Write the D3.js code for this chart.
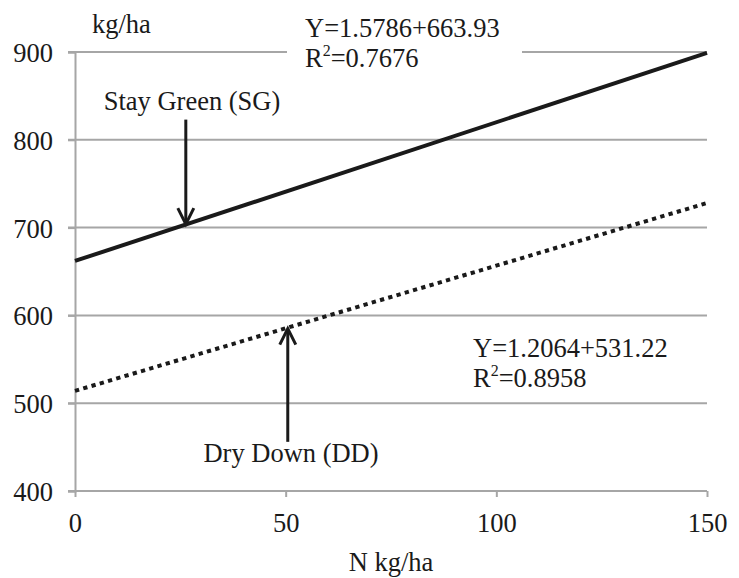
<!DOCTYPE html>
<html>
<head>
<meta charset="utf-8">
<script src="https://cdn.jsdelivr.net/npm/d3@7"></script>
</head>
<body style="margin:0;padding:0;background:#fff">
<svg id="chart" width="739" height="578" font-family="Liberation Serif"></svg>
<script>
// ---- data ----
const xTicks = [0, 50, 100, 150];
const yTicks = [400, 500, 600, 700, 800, 900];
const nRate = [0, 150];
const sgYield = [662, 899];
const ddYield = [514, 728];
const sgLabel = "Stay Green (SG)";
const ddLabel = "Dry Down (DD)";
const sgEq = ["Y=1.5786+663.93", "0.7676"];
const ddEq = ["Y=1.2064+531.22", "0.8958"];
// arrows: x position (N kg/ha), start value, tip value
const sgArrow = [26.3, 823, 704];
const ddArrow = [50.5, 456, 585];

const FONT = "Liberation Serif";
const FS = 26.5, SY = 1.06;
const svg = d3.select("#chart");
const x = d3.scaleLinear().domain([0, 150]).range([75, 707]);
const y = d3.scaleLinear().domain([400, 900]).range([491, 52]);
const gridColor = "#a6a6a6";
const ink = "#1a1a1a";

function style(sel) {
  return sel.attr("font-family", FONT).attr("font-size", FS).attr("fill", ink);
}
function label(px, py, str, anchor) {
  return style(svg.append("text"))
    .attr("transform", `translate(${px},${py}) scale(1,${SY})`)
    .attr("text-anchor", anchor || "start").text(str);
}

// gridlines
svg.append("g").selectAll("line").data(yTicks.filter(d => d > 400)).join("line")
  .attr("x1", x(0) - 7).attr("x2", x(150))
  .attr("y1", d => y(d)).attr("y2", d => y(d))
  .attr("stroke", gridColor).attr("stroke-width", 2);

// y axis
const yAxis = d3.axisLeft(y).tickValues(yTicks).tickSize(7).tickFormat(d3.format("d"));
const gy = svg.append("g").attr("transform", `translate(${x(0)},0)`).call(yAxis)
  .attr("font-family", FONT).attr("font-size", FS);
gy.select(".domain").attr("stroke", gridColor).attr("stroke-width", 2);
gy.selectAll(".tick line").attr("stroke", gridColor).attr("stroke-width", 2);
style(gy.selectAll(".tick text")).attr("x", 0).attr("dy", null)
  .attr("text-anchor", "end").attr("transform", `translate(-22,9.5) scale(1,${SY})`);

// x axis
const xAxis = d3.axisBottom(x).tickValues(xTicks).tickSize(6).tickSizeOuter(0);
const gx = svg.append("g").attr("transform", `translate(0,${y(400)})`).call(xAxis)
  .attr("font-family", FONT).attr("font-size", FS);
gx.select(".domain").attr("stroke", gridColor).attr("stroke-width", 2).attr("d", `M${x(0)-7},0H${x(150)}`);
gx.selectAll(".tick line").attr("stroke", gridColor).attr("stroke-width", 2);
style(gx.selectAll(".tick text")).attr("y", 0).attr("dy", null)
  .attr("transform", `translate(0,41) scale(1,${SY})`);

// axis titles
label(92, 33, "kg/ha");
label(x(75), 571, "N kg/ha", "middle");

// equation box for SG (white background)
svg.append("rect").attr("x", 287).attr("y", 8).attr("width", 235).attr("height", 66).attr("fill", "#fff");

// lines
const line = d3.line().x(d => x(d[0])).y(d => y(d[1]));
svg.append("path").datum(nRate.map((n, i) => [n, sgYield[i]]))
  .attr("d", line).attr("fill", "none").attr("stroke", ink).attr("stroke-width", 4);
svg.append("path").datum(nRate.map((n, i) => [n, ddYield[i]]))
  .attr("d", line).attr("fill", "none").attr("stroke", ink).attr("stroke-width", 4)
  .attr("stroke-dasharray", "4.3,4.3");

// equations
function eq(lines, x0, y0) {
  label(x0, y0, lines[0]);
  const t = label(x0, y0 + 30, null);
  t.append("tspan").text("R");
  t.append("tspan").attr("font-size", 16).attr("dy", -10).text("2");
  t.append("tspan").attr("dy", 10).text("=" + lines[1]);
}
eq(sgEq, 305, 37);
eq(ddEq, 473, 357);

// arrows
function arrow(a, text, labelX, labelY) {
  const ax = x(a[0]), y1 = y(a[1]), y2 = y(a[2]);
  const dir = y2 > y1 ? 1 : -1;
  svg.append("line").attr("x1", ax).attr("x2", ax).attr("y1", y1).attr("y2", y2 - dir * 1)
    .attr("stroke", ink).attr("stroke-width", 3);
  svg.append("path")
    .attr("d", `M${ax - 8},${y2 - dir * 16}L${ax},${y2}L${ax + 8},${y2 - dir * 16}`)
    .attr("fill", "none").attr("stroke", ink).attr("stroke-width", 3);
  label(labelX, labelY, text, "middle");
}
arrow(sgArrow, sgLabel, 192, 110);
arrow(ddArrow, ddLabel, 291, 462);
</script>
</body>
</html>
